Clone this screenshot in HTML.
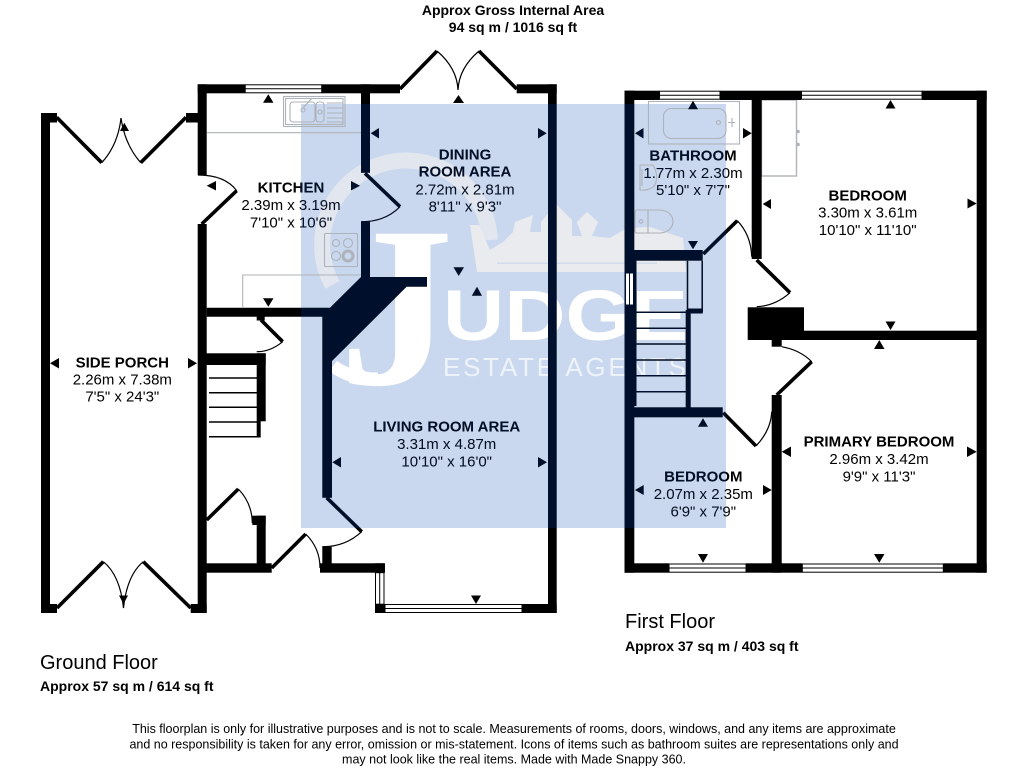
<!DOCTYPE html>
<html><head><meta charset="utf-8"><style>
html,body{margin:0;padding:0;background:#fff}
svg{display:block}
text{font-family:"Liberation Sans",sans-serif;fill:#000}
.r{font-size:15px;text-anchor:middle}
.b{font-size:15px;font-weight:bold;text-anchor:middle}
.h{font-size:14px;font-weight:bold}
.f{font-size:12.5px;text-anchor:middle}
.fx{fill:none;stroke:#aeb2ba;stroke-width:1.1}
.a{fill:none;stroke:#000;stroke-width:1.2}
.l{fill:none;stroke:#000;stroke-width:3.6}
.s{stroke:#000;stroke-width:1.5}
</style></head><body>
<svg width="1024" height="768" viewBox="0 0 1024 768" xmlns="http://www.w3.org/2000/svg">
<rect width="1024" height="768" fill="#fff"/>
<rect x="301" y="104" width="425" height="424" fill="#c9d8ee"/>
<!-- logo -->
<g>
<path d="M332.500 285A84 84 0 1 1 490 240" fill="none" stroke="#e2e6ef" stroke-width="16"/>
<path d="M470 225L479 225L490 250L503 242L513 232L515 222L533 215L530 232L541 232L541 222L556 204L572 220L572 236L582 236L577 222L587 212L598 222L592 236L610 238L627 228L650 227L683 238L686 272L477 272Z" fill="#eaebee"/>
<rect x="497" y="262.500" width="160" height="1.600" fill="#d3dcec"/>
<text x="0" y="0" transform="translate(339,384) scale(2.7,2.7)" font-size="85" font-weight="bold" style="font-family:'Liberation Serif',serif;fill:#fff">J</text>
<path d="M333 366Q350 379 378 379" fill="none" stroke="#fff" stroke-width="13"/>
<text x="443" y="340" font-size="71" font-weight="bold" textLength="245" lengthAdjust="spacingAndGlyphs" style="fill:#fff">UDGE</text>
<text x="443" y="376" font-size="26" textLength="243" lengthAdjust="spacing" style="fill:#eef2f9">ESTATE AGENTS</text>
</g>
<!-- fixtures ground -->
<g class="fx">
<path d="M207 132.700H361M242.700 307V275H361"/>
<rect x="283.500" y="96.500" width="61.500" height="30"/><rect x="285.500" y="98.500" width="57.500" height="26"/>
<rect x="290" y="102" width="25" height="20" rx="3"/><rect x="316" y="102" width="8" height="20" rx="3"/>
<path d="M327 103H343M327 108H343M327 113H343M327 118H343M327 122H343"/>
<circle cx="303" cy="110" r="2"/><circle cx="320" cy="112" r="2"/><path d="M303 108L312 98"/>
<rect x="324.500" y="233.500" width="33" height="33" rx="1"/>
<circle cx="336" cy="243" r="3.500"/><circle cx="348" cy="243" r="4.500"/><circle cx="336" cy="256" r="4.500"/><circle cx="348" cy="256" r="5" stroke-width="3"/>
<!-- fixtures first -->
<rect x="648.500" y="101.500" width="91" height="42.500"/>
<rect x="663.500" y="108.500" width="62.500" height="30" rx="8"/>
<circle cx="718.500" cy="122.500" r="2"/><path d="M728 122.500H735M732 118V127"/>
<path d="M640 165H653Q659 175 655 185Q650 191 640 190ZM642 169V186"/>
<path d="M648 210H637Q635 210 635 213V231Q635 233 637 233H648Z"/>
<path d="M648 210H660A13 11.500 0 0 1 660 233H648Z"/>
<circle cx="641" cy="221.500" r="1.800"/>
<rect x="761.500" y="100" width="35" height="76" stroke-width="1.400"/>
</g>
<circle cx="798" cy="131.500" r="1.800" fill="#aeb2ba"/><circle cx="798" cy="144.500" r="1.800" fill="#aeb2ba"/>
<!-- walls ground -->
<g fill="#000">
<rect x="41" y="113" width="9" height="500"/>
<rect x="41" y="113" width="16" height="9.500"/>
<rect x="186" y="113" width="14" height="9.500"/>
<rect x="41" y="604" width="16" height="9"/>
<rect x="190.700" y="604" width="16" height="9"/>
<rect x="197.700" y="84.300" width="9" height="90.700"/>
<rect x="197.700" y="224" width="9" height="389"/>
<rect x="197.700" y="84.300" width="47.500" height="9"/>
<rect x="321.700" y="84.300" width="78.300" height="9"/>
<rect x="361" y="84.300" width="9" height="88.500"/>
<rect x="361" y="221.500" width="9" height="60"/>
<polygon points="206.700,307.700 330,307.700 361,277 427,277 427,286.700 406.600,286.700 332,361 332,497.700 322.300,497.700 322.300,316.700 206.700,316.700"/>
<rect x="256.700" y="316" width="8" height="4.500"/>
<rect x="206" y="353.300" width="59.700" height="11.700"/>
<rect x="256.700" y="353.300" width="9" height="68"/>
<rect x="256.700" y="421" width="4" height="16.500"/>
<rect x="252.300" y="515.700" width="13.400" height="9.300"/>
<rect x="256.700" y="515.700" width="9" height="50"/>
<rect x="206" y="563.300" width="65.700" height="9.400"/>
<rect x="320" y="563.300" width="65" height="9.400"/>
<rect x="322.300" y="546.700" width="9.400" height="20"/>
<rect x="375" y="563.300" width="9.500" height="49.700"/>
<rect x="375" y="604" width="10" height="9"/>
<rect x="522" y="604" width="34.700" height="9"/>
<rect x="548" y="84.300" width="8.700" height="528.700"/>
<rect x="516.700" y="84.300" width="40" height="9"/>
<!-- walls first -->
<rect x="624.500" y="90.700" width="9.800" height="482"/>
<rect x="624.500" y="90.700" width="35" height="9.300"/>
<rect x="720" y="90.700" width="81" height="9.300"/>
<rect x="922" y="90.700" width="64.700" height="9.300"/>
<rect x="976.700" y="90.700" width="10" height="482"/>
<rect x="751.700" y="95" width="10" height="164"/>
<rect x="624.500" y="250" width="78.200" height="10.700"/>
<rect x="634" y="250" width="2.500" height="156"/>
<rect x="685.700" y="310" width="5" height="98"/>
<rect x="624.500" y="407.300" width="98.200" height="10"/>
<rect x="747.700" y="307.300" width="56.300" height="32.700"/>
<rect x="800" y="330.700" width="177" height="9.300"/>
<rect x="771.700" y="338" width="10" height="8.700"/>
<rect x="771.700" y="395" width="10" height="177.700"/>
<rect x="624.500" y="563.300" width="44.500" height="9.400"/>
<rect x="746" y="563.300" width="56.300" height="9.400"/>
<rect x="943.300" y="563.300" width="43.400" height="9.400"/>
<rect x="687" y="308.500" width="15.700" height="5"/>
</g>
<!-- windows -->
<g fill="#fff" stroke="#000" stroke-width="1">
<rect x="245.200" y="84.800" width="76.500" height="8"/><path d="M245 88.800H322"/>
<rect x="385" y="604.500" width="137" height="8"/><path d="M385 608.500H522"/>
<rect x="375.500" y="572.700" width="8.500" height="31.500"/><path d="M379.700 573V604"/>
<rect x="659.500" y="91.200" width="60.500" height="8"/><path d="M659 95.200H720"/>
<rect x="801.500" y="91.200" width="120.500" height="8"/><path d="M801 95.200H922"/>
<rect x="669" y="564" width="77" height="8.200"/><path d="M669 568H746"/>
<rect x="802.300" y="564" width="141" height="8.200"/><path d="M802 568H943"/>
<rect x="625.500" y="273" width="8" height="32"/><path d="M629.500 273V305"/>
</g>
<!-- stairs -->
<g class="s">
<path d="M209 378H257M209 392.700H257M209 407.300H257M209 422H257M209 436.700H257" fill="none"/>
<path d="M636 312.300H686M636 328.300H686M636 344H686M636 360H686M636 375.700H686M636 391.700H686" fill="none"/>
<path d="M687.500 260.700V311.500H702.200V260.700" fill="none"/>
</g>
<!-- door leaves -->
<g class="l">
<path d="M56.700 117.300L101.700 162.700M186 117.300L140.700 162.700"/>
<path d="M57 608L103.300 561.700M190.700 608L143.300 561.700"/>
<path d="M400 89L437 51M516.700 89L479 51"/>
<path d="M201.700 224L236.700 190.700"/>
<path d="M365 173.300L400 206.700"/>
<path d="M261 320L282.700 341.700"/>
<path d="M206.700 520L238.300 489"/>
<path d="M271.700 568L305.700 534"/>
<path d="M326.700 497.700L361.700 531.700"/>
<path d="M703.300 254L737.300 220.700"/>
<path d="M756.700 260L790 292.700"/>
<path d="M811.700 361.700L776.700 395"/>
<path d="M723.300 412.700L756 446"/>
</g>
<!-- arcs -->
<g class="a">
<path d="M101.700 162.700Q118 145 121 118M140.700 162.700Q125 145 121 118"/>
<path d="M103.300 561.700Q120 575 123.500 608M143.300 561.700Q127 575 123.500 608"/>
<path d="M437 51Q457 68 458 90M479 51Q459 68 458 90"/>
<path d="M236.700 190.700Q225 175 198 175"/>
<path d="M400 206.700Q385 222 361 221.700"/>
<path d="M282.700 341.700Q270 352 256.700 351.700"/>
<path d="M238.300 489Q252 503 252.300 523"/>
<path d="M305.700 534Q320 548 320 568"/>
<path d="M361.700 531.700Q345 547 322.300 546.700"/>
<path d="M737.300 220.700Q751 235 751.700 256.700"/>
<path d="M790 292.700Q775 306 756.700 306.700"/>
<path d="M781.700 346.700Q800 350 811.700 361.700"/>
<path d="M756 446Q771 430 771.700 411.700"/>
</g>
<!-- arrows -->
<g fill="#000">
<polygon points="124.300,122.700 120,131 129,131"/>
<polygon points="123.500,604 119,595.500 128,595.500"/>
<polygon points="458.500,95 453,103 464,103"/>
<polygon points="268.300,94.300 263,102.700 273.500,102.700"/>
<polygon points="206.700,185.700 216,181 216,190.500"/>
<polygon points="360,185.700 351,181 351,190.500"/>
<polygon points="268.300,306.700 263,298.300 273.500,298.300"/>
<polygon points="370.700,133.300 379,128 379,138.500"/>
<polygon points="546.700,133.300 538,128 538,138.500"/>
<polygon points="458.700,276 453.500,267.300 464,267.300"/>
<polygon points="477,286.700 471.800,295.700 482,295.700"/>
<polygon points="332.300,462.300 341,457 341,467.500"/>
<polygon points="547,462.300 538,457 538,467.500"/>
<polygon points="476,604 471,595.500 481,595.500"/>
<polygon points="50,363.300 59,358 59,368.500"/>
<polygon points="197,363.300 188,358 188,368.500"/>
<polygon points="693,100.700 688,109.300 698,109.300"/>
<polygon points="635,133.300 643.500,128 643.500,138.500"/>
<polygon points="751.700,133.300 743,128 743,138.500"/>
<polygon points="693,249.300 688,241 698,241"/>
<polygon points="890.500,100 885.500,108.500 895.500,108.500"/>
<polygon points="762.700,204 771,199 771,209"/>
<polygon points="976.700,203.500 967.500,198.500 967.500,208.500"/>
<polygon points="890.500,330 885.500,321.500 895.500,321.500"/>
<polygon points="879.300,340 874,349 884.500,349"/>
<polygon points="781.700,451.700 791,446.500 791,457"/>
<polygon points="976.700,451.700 967,446.500 967,457"/>
<polygon points="879.300,562.700 874,554 884.500,554"/>
<polygon points="703,418.300 698,426.700 708,426.700"/>
<polygon points="635,490 643.700,485 643.700,495"/>
<polygon points="771.700,490 763,485 763,495"/>
<polygon points="703,562.700 698,554 708,554"/>
</g>
<!-- room labels -->
<text class="b" x="291" y="192.700">KITCHEN</text><text class="r" x="291" y="210">2.39m x 3.19m</text><text class="r" x="291" y="227.300">7'10" x 10'6"</text>
<text class="b" x="465" y="159.300">DINING</text><text class="b" x="465" y="176.700">ROOM AREA</text><text class="r" x="465" y="194.300">2.72m x 2.81m</text><text class="r" x="465" y="211.700">8'11" x 9'3"</text>
<text class="b" x="693" y="160.700">BATHROOM</text><text class="r" x="693" y="178">1.77m x 2.30m</text><text class="r" x="693" y="195">5'10" x 7'7"</text>
<text class="b" x="122.300" y="367.300">SIDE PORCH</text><text class="r" x="122.300" y="384.300">2.26m x 7.38m</text><text class="r" x="122.300" y="401.700">7'5" x 24'3"</text>
<text class="b" x="446.700" y="431.700">LIVING ROOM AREA</text><text class="r" x="446.700" y="449">3.31m x 4.87m</text><text class="r" x="446.700" y="466.700">10'10" x 16'0"</text>
<text class="b" x="867.700" y="200.700">BEDROOM</text><text class="r" x="867.700" y="217.700">3.30m x 3.61m</text><text class="r" x="867.700" y="235">10'10" x 11'10"</text>
<text class="b" x="703.300" y="481.700">BEDROOM</text><text class="r" x="703.300" y="499">2.07m x 2.35m</text><text class="r" x="703.300" y="516.300">6'9" x 7'9"</text>
<text class="b" x="879" y="446.700">PRIMARY BEDROOM</text><text class="r" x="879" y="464">2.96m x 3.42m</text><text class="r" x="879" y="481.300">9'9" x 11'3"</text>
<!-- navy tint for dark items over the blue panel -->
<rect x="301" y="104" width="425" height="424" fill="#00102c" style="mix-blend-mode:lighten"/>
<!-- headers -->
<text class="h" x="513" y="15" text-anchor="middle">Approx Gross Internal Area</text>
<text class="h" x="513" y="32" text-anchor="middle">94 sq m / 1016 sq ft</text>
<text x="40" y="669" font-size="20">Ground Floor</text>
<text class="h" x="40" y="691">Approx 57 sq m / 614 sq ft</text>
<text x="625" y="628" font-size="20">First Floor</text>
<text class="h" x="625" y="651">Approx 37 sq m / 403 sq ft</text>
<text class="f" x="514" y="733">This floorplan is only for illustrative purposes and is not to scale. Measurements of rooms, doors, windows, and any items are approximate</text>
<text class="f" x="514" y="748.300">and no responsibility is taken for any error, omission or mis-statement. Icons of items such as bathroom suites are representations only and</text>
<text class="f" x="514" y="763.300">may not look like the real items. Made with Made Snappy 360.</text>
</svg>
</body></html>
